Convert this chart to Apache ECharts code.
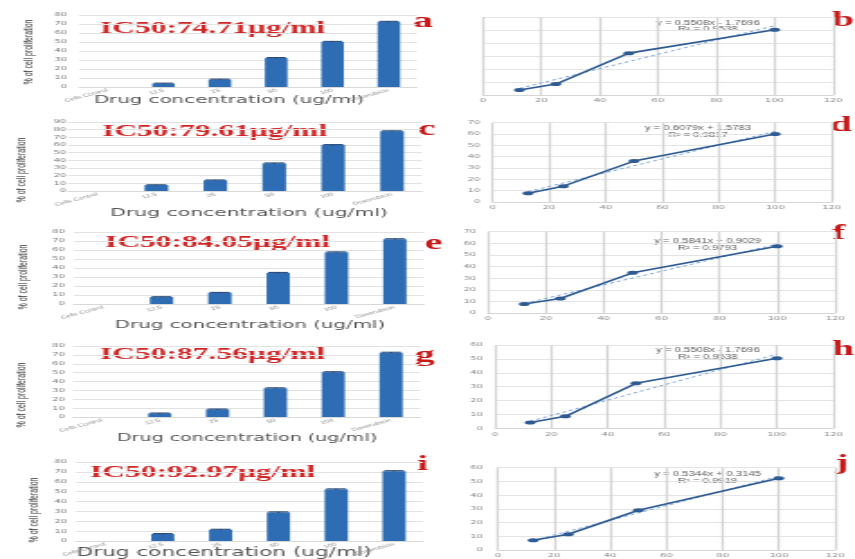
<!DOCTYPE html>
<html>
<head>
<meta charset="utf-8">
<title>Cell proliferation and IC50</title>
<script src="https://cdn.jsdelivr.net/npm/echarts@6/dist/echarts.min.js"></script>
<style>
  html, body { margin: 0; padding: 0; background: #fff; overflow: hidden; }
  /* the figure is drawn narrow and widened horizontally as a whole */
  #chart { width: 475px; height: 559px; transform: scaleX(1.8); transform-origin: 0 0; }
</style>
</head>
<body>
<div id="chart"></div>
<script>
// ---------- data ----------
const categories = ['Cells Control', '12.5', '25', '50', '100', 'Doxorubicin'];
const concentrations = [12.5, 25, 50, 100];

// % of cell proliferation at each concentration, one array per extract
const prolifA = [3.9, 8.4, 32.2, 50.2];
const prolifC = [7.7, 14.0, 36.1, 60.0];
const prolifE = [7.7, 12.5, 34.6, 57.4];
const prolifG = [4.1, 8.6, 32.4, 50.5];
const prolifI = [7.1, 11.5, 29.0, 52.3];
const cellsControl = [0, 0, 0, 0, 0];
const standardDrug = [72.5, 78.0, 72.0, 72.5, 70.7];
const errorBar = [0, 0.4, 0.4, 0.5, 0.5, 0.5];

const ic50 = ['74.71', '79.61', '84.05', '87.56', '92.97'];
const slopes = [0.5508, 0.6079, 0.5841, 0.5508, 0.5344];
const intercepts = [-1.7696, 1.5783, 0.9029, -1.7696, 0.3145];
const rSquared = ['0.9538', '0.9817', '0.9793', '0.9538', '0.9919'];

const barMax = [80, 90, 80, 80, 80];
const lineMax = [60, 70, 70, 60, 60];
const barLetters = ['a', 'c', 'e', 'g', 'i'];
const lineLetters = ['b', 'd', 'f', 'h', 'j'];

// ---------- layout (page pixels, before the horizontal widening is undone) ----------
const SX = 1.8;
const sx = v => v / SX;

const barLayout = [
  { l: 79, r: 417,   t: 15,  b: 87,  lbl: 67, yt: [28.5, 52],  xt: [229, 100, 11],   ic: [100, 28.5],  letter: [413, 21] },
  { l: 68, r: 421.5, t: 122, b: 191, lbl: 66, yt: [22, 170],   xt: [249, 213, 11.3], ic: [102, 131.5], letter: [418, 129] },
  { l: 74, r: 424,   t: 232, b: 304, lbl: 65, yt: [23, 277],   xt: [250, 325, 11],   ic: [105, 242.5], letter: [425, 243] },
  { l: 73, r: 420,   t: 346, b: 417, lbl: 65, yt: [22, 395],   xt: [247, 438, 10.6], ic: [100, 354],   letter: [415, 355] },
  { l: 76, r: 423,   t: 462, b: 541, lbl: 67, yt: [34, 510],   xt: [224, 553, 12],   ic: [90, 472],    letter: [417, 464] }
];
const lineLayout = [
  { l: 483,   r: 833,   t: 17,    b: 95,    lbl: null, eq: [708, 23, 29.5],   letter: [832, 20] },
  { l: 492.7, r: 831.7, t: 122.7, b: 202,   lbl: 480,  eq: [698, 128.5, 135], letter: [830, 125] },
  { l: 488,   r: 835,   t: 231.7, b: 313,   lbl: 476,  eq: [707.5, 241.5, 248], letter: [832, 233] },
  { l: 495,   r: 833.3, t: 345,   b: 428.3, lbl: 483,  eq: [708, 350.5, 357],   letter: [832, 349] },
  { l: 498,   r: 835,   t: 467.7, b: 550,   lbl: 483,  eq: [707.5, 474.5, 481], letter: [835, 463] }
];

const prolif = [prolifA, prolifC, prolifE, prolifG, prolifI];

const BAR_BLUE = '#2e6db4';
const LINE_BLUE = '#2f5b93';
const TREND_BLUE = '#6fa0d8';
const RED = '#d12626';
const TICK_FONT = 'DejaVu Sans';

const grid = [], xAxis = [], yAxis = [], series = [], graphic = [];

function txt(x, y, text, style, extra) {
  return Object.assign({
    type: 'text', x: x, y: y, silent: true,
    style: Object.assign({ text: text }, style)
  }, extra || {});
}

// ---------- bar panels ----------
barLayout.forEach((L, i) => {
  const gi = grid.length;
  grid.push({ left: sx(L.l), top: L.t, width: sx(L.r - L.l), height: L.b - L.t,
              containLabel: false, outerBoundsMode: 'none' });
  xAxis.push({
    type: 'category', gridIndex: gi, data: categories,
    axisLine: { show: true, lineStyle: { color: '#d9d9d9', width: 1 } },
    axisTick: { show: false },
    axisLabel: { interval: 0, rotate: 25, fontSize: 4.5, color: '#8a8a8a', margin: 3, fontFamily: 'Liberation Sans' },
    splitLine: { show: false }
  });
  yAxis.push({
    type: 'value', gridIndex: gi, min: 0, max: barMax[i], interval: 10,
    axisLine: { show: false }, axisTick: { show: false },
    axisLabel: { fontSize: 5.5, color: '#7a7a7a', margin: sx(L.l - L.lbl), fontFamily: TICK_FONT },
    splitLine: { lineStyle: { color: '#e2e2e2', width: 1 } }
  });
  const values = [cellsControl[i]].concat(prolif[i], [standardDrug[i]]);
  series.push({
    type: 'bar', xAxisIndex: gi, yAxisIndex: gi, data: values,
    barWidth: '40%', itemStyle: { color: BAR_BLUE }, silent: true
  });
  series.push({
    type: 'custom', xAxisIndex: gi, yAxisIndex: gi, silent: true, z: 5,
    data: values.map((v, k) => [k, v, errorBar[k]]),
    renderItem: function (params, api) {
      const v = api.value(1), e = api.value(2);
      if (!v) return null;
      const hi = api.coord([api.value(0), v + e]);
      const lo = api.coord([api.value(0), v - e]);
      const hw = api.size([1, 0])[0] * 0.17;
      const st = { stroke: '#1d3f6e', lineWidth: 1 };
      return { type: 'group', children: [
        { type: 'line', shape: { x1: hi[0], y1: hi[1], x2: lo[0], y2: lo[1] }, style: st },
        { type: 'line', shape: { x1: hi[0] - hw, y1: hi[1], x2: hi[0] + hw, y2: hi[1] }, style: st }
      ] };
    }
  });

  graphic.push(txt(sx(L.ic[0]), L.ic[1], 'IC50:' + ic50[i] + 'μg/ml', {
    fill: RED, font: 'bold 17.5px "Liberation Serif"',
    align: 'left', verticalAlign: 'middle', textAlign: 'left', textVerticalAlign: 'middle'
  }));
  graphic.push(txt(sx(L.letter[0]), L.letter[1], barLetters[i], {
    fill: '#c81818', font: 'bold 22px "Liberation Serif"',
    align: 'left', verticalAlign: 'middle', textAlign: 'left', textVerticalAlign: 'middle'
  }));
  graphic.push(txt(sx(L.xt[0]), L.xt[1], 'Drug concentration (ug/ml)', {
    fill: '#555555', font: L.xt[2] + 'px "DejaVu Sans"',
    align: 'center', verticalAlign: 'middle', textAlign: 'center', textVerticalAlign: 'middle'
  }));
  graphic.push(txt(sx(L.yt[0]), L.yt[1], '% of cell proliferation', {
    fill: '#333333', font: '7px "Liberation Sans"',
    align: 'center', verticalAlign: 'middle', textAlign: 'center', textVerticalAlign: 'middle'
  }, { rotation: Math.PI / 2 }));
});

// ---------- dose-response panels ----------
lineLayout.forEach((L, i) => {
  const gi = grid.length;
  grid.push({ left: sx(L.l), top: L.t, width: sx(L.r - L.l), height: L.b - L.t,
              containLabel: false, outerBoundsMode: 'none' });
  xAxis.push({
    type: 'value', gridIndex: gi, min: 0, max: 120, interval: 20,
    axisLine: { show: true, lineStyle: { color: '#d6d6d6', width: 1 } },
    axisTick: { show: false },
    axisLabel: { fontSize: 5.5, color: '#8a8a8a', margin: 3, fontFamily: TICK_FONT },
    splitLine: { show: true, lineStyle: { color: '#d4d4d4', width: 1.3 } }
  });
  yAxis.push({
    type: 'value', gridIndex: gi, min: 0, max: lineMax[i], interval: 10,
    axisLine: { show: false }, axisTick: { show: false },
    axisLabel: L.lbl === null ? { show: false }
      : { fontSize: 5.5, color: '#8a8a8a', margin: sx(L.l - L.lbl), fontFamily: TICK_FONT },
    splitLine: { lineStyle: { color: '#e4e4e4', width: 1 } }
  });
  const m = slopes[i], c = intercepts[i];
  const x0 = concentrations[0], x1 = concentrations[concentrations.length - 1];
  series.push({
    type: 'line', xAxisIndex: gi, yAxisIndex: gi, silent: true, z: 3,
    data: [[x0, m * x0 + c], [x1, m * x1 + c]],
    symbol: 'none',
    lineStyle: { color: TREND_BLUE, width: 1, type: [2, 2] }
  });
  series.push({
    type: 'line', xAxisIndex: gi, yAxisIndex: gi, silent: true, z: 4,
    data: concentrations.map((x, k) => [x, prolif[i][k]]),
    symbol: 'circle', symbolSize: [6, 4],
    itemStyle: { color: LINE_BLUE },
    lineStyle: { color: LINE_BLUE, width: 1.6 }
  });

  const eq = 'y = ' + m.toFixed(4) + 'x ' + (c < 0 ? '- ' : '+ ') + Math.abs(c).toFixed(4);
  graphic.push(txt(sx(L.eq[0]), L.eq[1], eq, {
    fill: '#5e5e5e', font: '6.3px "Liberation Sans"',
    align: 'center', verticalAlign: 'middle', textAlign: 'center', textVerticalAlign: 'middle'
  }));
  graphic.push(txt(sx(L.eq[0]), L.eq[2], 'R² = ' + rSquared[i], {
    fill: '#5e5e5e', font: '6.3px "Liberation Sans"',
    align: 'center', verticalAlign: 'middle', textAlign: 'center', textVerticalAlign: 'middle'
  }));
  graphic.push(txt(sx(L.letter[0]), L.letter[1], lineLetters[i], {
    fill: '#c81818', font: 'bold 22px "Liberation Serif"',
    align: 'left', verticalAlign: 'middle', textAlign: 'left', textVerticalAlign: 'middle'
  }));
});

const chart = echarts.init(document.getElementById('chart'), null, { renderer: 'canvas' });
chart.setOption({
  backgroundColor: '#ffffff',
  animation: false,
  grid: grid, xAxis: xAxis, yAxis: yAxis, series: series,
  graphic: graphic
});
</script>
</body>
</html>
